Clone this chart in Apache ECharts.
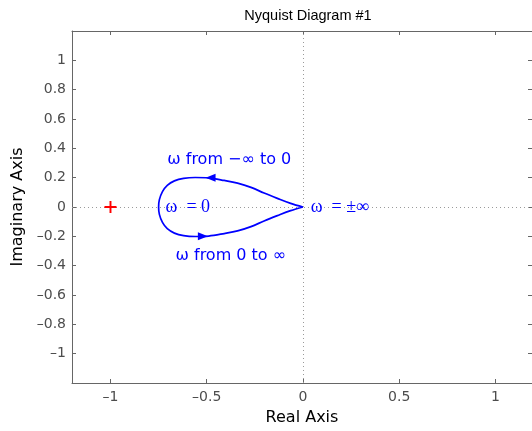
<!DOCTYPE html>
<html>
<head>
<meta charset="utf-8">
<script src="https://cdn.jsdelivr.net/npm/echarts@6/dist/echarts.min.js"></script>
<style>
  html, body { margin: 0; padding: 0; background: #fff; }
  #chart { width: 532px; height: 431px; }
</style>
</head>
<body>
<div id="chart"></div>
<script>
  // ticks
  var xTicks = [-1, -0.5, 0, 0.5, 1];
  var yTicks = [-1, -0.8, -0.6, -0.4, -0.2, 0, 0.2, 0.4, 0.6, 0.8, 1];

  // upper half: omega from -inf to 0 (origin -> left)
  var upperHalf = [
    [0, 0], [-0.064, 0.025], [-0.133, 0.059], [-0.202, 0.095], [-0.27, 0.134],
    [-0.34, 0.163], [-0.409, 0.181], [-0.49, 0.198], [-0.56, 0.201], [-0.62, 0.195],
    [-0.668, 0.178], [-0.705, 0.148], [-0.73, 0.105], [-0.746, 0.05], [-0.75, 0]
  ];
  // lower half: omega from 0 to inf (left -> origin)
  var lowerHalf = [
    [-0.746, -0.05], [-0.73, -0.105], [-0.705, -0.148], [-0.668, -0.178], [-0.62, -0.195],
    [-0.56, -0.201], [-0.49, -0.198], [-0.409, -0.181], [-0.34, -0.163], [-0.27, -0.134],
    [-0.202, -0.095], [-0.133, -0.059], [-0.064, -0.025], [0, 0]
  ];

  // arrow heads on the curve [x, y, rotate]
  var arrows = [[-0.48, 0.199, 90], [-0.52, -0.2, -90]];
  // critical point
  var critical = [[-1, 0]];
  // annotations [x, y, text]
  var notes = [
    [-0.383, 0.323, 'ω from \u2212∞ to 0'],
    [-0.375, -0.332, 'ω from 0 to ∞'],
    [-0.714, 0, 'ω  = 0'],
    [0.04, 0, 'ω  = ±∞']
  ];

  var axisColor = '#666';
  var labelColor = '#4d4d4d';
  var font = 'DejaVu Sans';

  function fmt(v) {
    var r = Math.round(v * 10) / 10;
    return r < 0 ? '\u2013' + String(-r) : String(r);
  }

  var chart = echarts.init(document.getElementById('chart'));

  chart.setOption({
    animation: false,
    backgroundColor: '#fff',
    title: {
      text: 'Nyquist Diagram #1',
      left: 303, top: 3, textAlign: 'center',
      textStyle: { fontFamily: 'Liberation Sans', fontSize: 14.5, fontWeight: 'normal', color: '#000' }
    },
    grid: { left: 72, top: 31, width: 461, height: 354 },
    xAxis: [
      {
        type: 'value', min: -1.2, max: 1.19, position: 'bottom',
        axisLine: { show: true, onZero: false, lineStyle: { color: axisColor } },
        axisTick: { show: true, inside: true, length: 4, customValues: xTicks, lineStyle: { color: axisColor } },
        axisLabel: { customValues: xTicks, formatter: fmt, color: labelColor, fontFamily: font, fontSize: 14, margin: 7 },
        splitLine: { show: false },
        name: 'Real Axis', nameLocation: 'middle', nameGap: 27,
        nameTextStyle: { fontFamily: font, fontSize: 16, color: '#000' }
      },
      {
        type: 'value', min: -1.2, max: 1.19, position: 'top',
        axisLine: { show: true, onZero: false, lineStyle: { color: axisColor } },
        axisTick: { show: true, inside: true, length: 4, customValues: xTicks, lineStyle: { color: axisColor } },
        axisLabel: { show: false },
        splitLine: { show: false }
      }
    ],
    yAxis: [
      {
        type: 'value', min: -1.2, max: 1.2, position: 'left',
        axisLine: { show: true, onZero: false, lineStyle: { color: axisColor } },
        axisTick: { show: true, inside: true, length: 4, customValues: yTicks, lineStyle: { color: axisColor } },
        axisLabel: { customValues: yTicks, formatter: fmt, color: labelColor, fontFamily: font, fontSize: 14, margin: 6 },
        splitLine: { show: false },
        name: 'Imaginary Axis', nameLocation: 'middle', nameGap: 45, nameRotate: 90,
        nameTextStyle: { fontFamily: font, fontSize: 16, color: '#000' }
      },
      {
        type: 'value', min: -1.2, max: 1.2, position: 'right',
        axisLine: { show: true, onZero: false, lineStyle: { color: axisColor } },
        axisTick: { show: true, inside: true, length: 4, customValues: yTicks, lineStyle: { color: axisColor } },
        axisLabel: { show: false },
        splitLine: { show: false }
      }
    ],
    series: [
      {
        type: 'line',
        data: upperHalf.concat(lowerHalf),
        smooth: 0.35,
        symbol: 'none',
        lineStyle: { color: '#0000ff', width: 1.7 },
        z: 3,
        markLine: {
          silent: true,
          symbol: ['none', 'none'],
          label: { show: false },
          lineStyle: { color: '#9a9a9a', width: 1, type: [1, 3] },
          data: [{ xAxis: 0 }, { yAxis: 0 }],
          z: 1
        }
      },
      {
        type: 'scatter',
        data: arrows.map(function (a) { return { value: [a[0], a[1]], symbolRotate: a[2] }; }),
        symbol: 'triangle',
        symbolSize: [8, 10],
        itemStyle: { color: '#0000ff', opacity: 1 },
        z: 4
      },
      {
        type: 'scatter',
        data: critical,
        symbol: 'path://M0,4.2h10v1.6h-10zM4.2,0h1.6v10h-1.6z',
        symbolSize: 12,
        itemStyle: { color: '#ff0000', opacity: 1 },
        z: 4
      },
      {
        type: 'scatter',
        symbolSize: 0,
        itemStyle: { opacity: 1 },
        z: 5,
        data: notes.map(function (n, i) {
          var serif = i >= 2;
          return {
            value: [n[0], n[1]],
            label: {
              show: true,
              formatter: n[2],
              position: serif ? 'right' : 'inside',
              distance: 0,
              align: serif ? 'left' : 'center',
              verticalAlign: 'middle',
              color: '#0000ff',
              opacity: 1,
              fontFamily: serif ? 'Liberation Serif' : font,
              fontSize: serif ? 18 : 16
            }
          };
        })
      }
    ]
  });
</script>
</body>
</html>
